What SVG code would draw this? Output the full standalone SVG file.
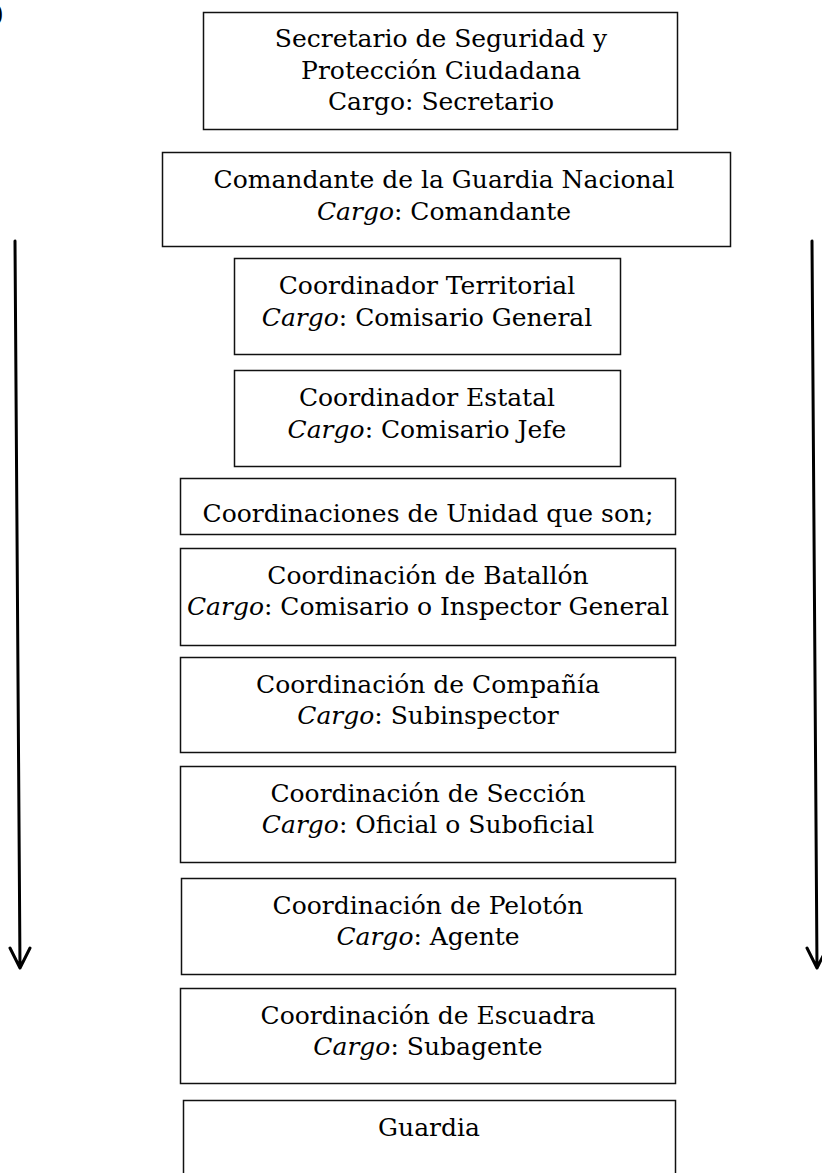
<svg xmlns="http://www.w3.org/2000/svg" width="822" height="1173" viewBox="0 0 822 1173">
<style>
.box{fill:#fff;stroke:#111;stroke-width:1.5}
.t{font-family:"DejaVu Serif","Liberation Serif",serif;font-size:25px;fill:#000;text-anchor:middle}
.i{font-style:italic}
.arr{stroke:#000;stroke-width:3;fill:none;stroke-linecap:round;stroke-linejoin:round}
</style>
<rect x="0" y="0" width="822" height="1173" fill="#fff"/>
<text class="t" x="-6" y="22" style="text-anchor:start">)</text>
<g id="n1"><rect class="box" x="203.5" y="12.5" width="474" height="117"/>
<text class="t" x="441" y="47">Secretario de Seguridad y</text>
<text class="t" x="441" y="79">Protección Ciudadana</text>
<text class="t" x="441" y="110">Cargo: Secretario</text></g>
<g id="n2"><rect class="box" x="162.5" y="152.5" width="568" height="94"/>
<text class="t" x="444" y="188">Comandante de la Guardia Nacional</text>
<text class="t" x="444" y="220"><tspan class="i">Cargo</tspan>: Comandante</text></g>
<g id="n3"><rect class="box" x="234.5" y="258.5" width="386" height="96"/>
<text class="t" x="427" y="294">Coordinador Territorial</text>
<text class="t" x="427" y="326"><tspan class="i">Cargo</tspan>: Comisario General</text></g>
<g id="n4"><rect class="box" x="234.5" y="370.5" width="386" height="96"/>
<text class="t" x="427" y="406">Coordinador Estatal</text>
<text class="t" x="427" y="438"><tspan class="i">Cargo</tspan>: Comisario Jefe</text></g>
<g id="n5"><rect class="box" x="180.5" y="478.5" width="495" height="56"/>
<text class="t" x="428" y="522">Coordinaciones de Unidad que son;</text></g>
<g id="n6"><rect class="box" x="180.5" y="548.5" width="495" height="97"/>
<text class="t" x="428" y="584">Coordinación de Batallón</text>
<text class="t" x="428" y="615"><tspan class="i">Cargo</tspan>: Comisario o Inspector General</text></g>
<g id="n7"><rect class="box" x="180.5" y="657.5" width="495" height="95"/>
<text class="t" x="428" y="693">Coordinación de Compañía</text>
<text class="t" x="428" y="724"><tspan class="i">Cargo</tspan>: Subinspector</text></g>
<g id="n8"><rect class="box" x="180.5" y="766.5" width="495" height="96"/>
<text class="t" x="428" y="802">Coordinación de Sección</text>
<text class="t" x="428" y="833"><tspan class="i">Cargo</tspan>: Oficial o Suboficial</text></g>
<g id="n9"><rect class="box" x="181.5" y="878.5" width="494" height="96"/>
<text class="t" x="428" y="914">Coordinación de Pelotón</text>
<text class="t" x="428" y="945"><tspan class="i">Cargo</tspan>: Agente</text></g>
<g id="n10"><rect class="box" x="180.5" y="988.5" width="495" height="95"/>
<text class="t" x="428" y="1024">Coordinación de Escuadra</text>
<text class="t" x="428" y="1055"><tspan class="i">Cargo</tspan>: Subagente</text></g>
<g id="n11"><rect class="box" x="183.5" y="1100.5" width="492" height="90"/>
<text class="t" x="429" y="1136">Guardia</text></g>
<g id="connectors">
<path class="arr" d="M15 241 L20 968 M10 948 L20 968 L30 948"/>
<path class="arr" d="M812 241 L817 968 M807 948 L817 968 L827 948"/>
</g>
</svg>
